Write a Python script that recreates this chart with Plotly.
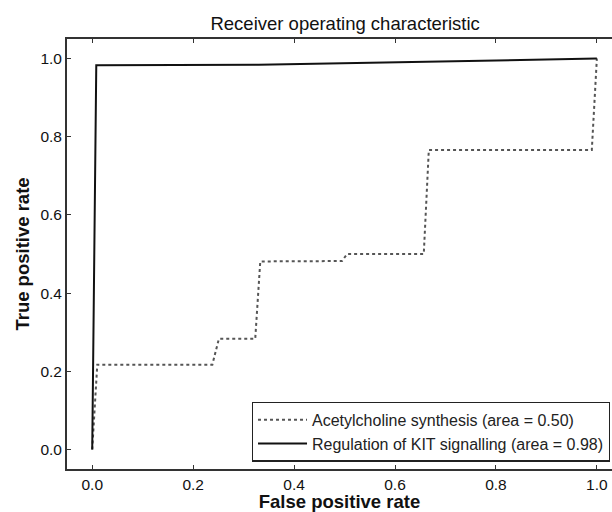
import plotly.graph_objects as go

# ROC curve points (false positive rate, true positive rate)
ach_fpr = [0.0, 0.010, 0.238, 0.251, 0.323, 0.333, 0.495, 0.505, 0.657, 0.667, 0.990, 1.0]
ach_tpr = [0.0, 0.217, 0.217, 0.283, 0.283, 0.481, 0.482, 0.500, 0.500, 0.766, 0.766, 1.0]
ach_label = "Acetylcholine synthesis (area = 0.50)"

kit_fpr = [0.0, 0.008, 0.33, 1.0]
kit_tpr = [0.0, 0.983, 0.984, 1.0]
kit_label = "Regulation of KIT signalling (area = 0.98)"

tick_vals = [0.0, 0.2, 0.4, 0.6, 0.8, 1.0]
tick_text = ["0.0", "0.2", "0.4", "0.6", "0.8", "1.0"]

font_family = "Liberation Sans, Arial, sans-serif"
spine = "#333333"

fig = go.Figure()
fig.add_trace(go.Scatter(
    x=ach_fpr, y=ach_tpr, mode="lines", name=ach_label,
    line=dict(color="#555555", width=2, dash="dot"),
))
fig.add_trace(go.Scatter(
    x=kit_fpr, y=kit_tpr, mode="lines", name=kit_label,
    line=dict(color="#111111", width=2),
))

fig.update_layout(
    width=612, height=512,
    margin=dict(l=67, r=0, t=39, b=43),
    paper_bgcolor="white", plot_bgcolor="white",
    font=dict(family=font_family, color="#111111", size=15.5),
    title=dict(text="Receiver operating characteristic", x=0.564, xanchor="center",
               y=0.955, yanchor="middle", font=dict(size=18.5, color="#111111")),
    showlegend=True,
    legend=dict(x=0.996, xanchor="right", y=0.017, yanchor="bottom",
                bordercolor="#222222", borderwidth=1.2, bgcolor="white",
                font=dict(size=16, color="#222222"), tracegroupgap=0,
                itemwidth=49),
)
fig.update_xaxes(
    range=[-0.05, 1.03], tickvals=tick_vals, ticktext=tick_text,
    ticks="inside", ticklen=4, tickcolor=spine, tickwidth=1,
    showline=True, linecolor=spine, linewidth=1.8, mirror="ticks",
    showgrid=False, zeroline=False,
    title=dict(text="<b>False positive rate</b>", font=dict(size=18.5), standoff=2),
)
fig.update_yaxes(
    range=[-0.05, 1.05], tickvals=tick_vals, ticktext=tick_text,
    ticks="inside", ticklen=4, tickcolor=spine, tickwidth=1,
    showline=True, linecolor=spine, linewidth=1.8, mirror=False,
    showgrid=False, zeroline=False,
    title=dict(text="<b>True positive rate</b>", font=dict(size=18.5), standoff=6),
)

fig.write_html("out.html")
